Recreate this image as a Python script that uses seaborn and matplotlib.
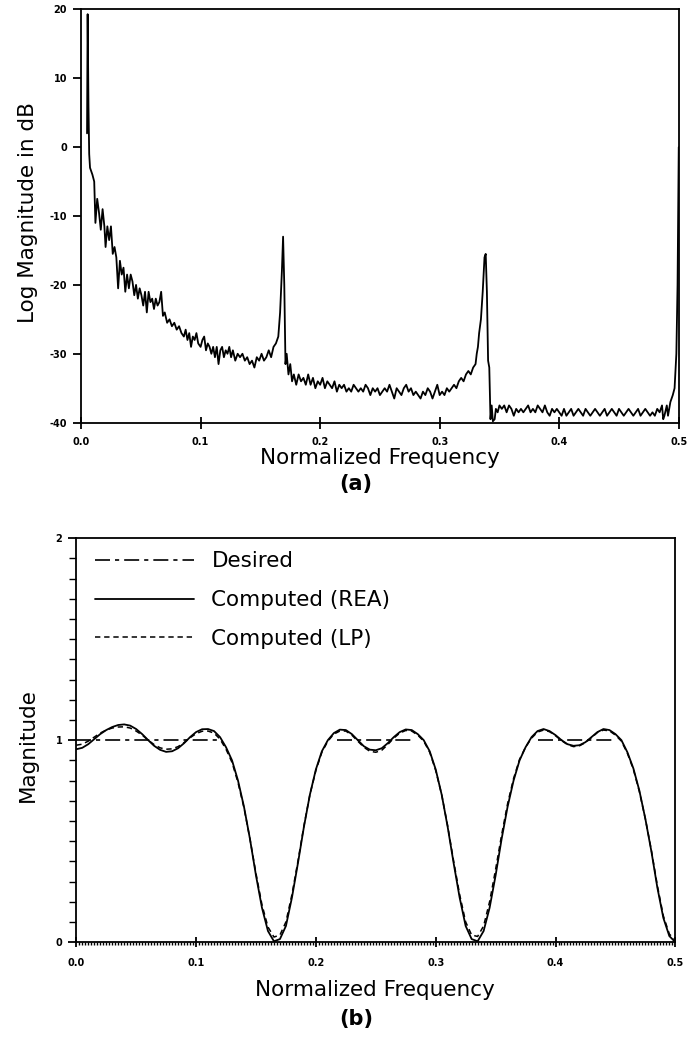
import numpy as np
import pandas as pd
import matplotlib
matplotlib.use('Agg')
import matplotlib.pyplot as plt
import seaborn as sns
from matplotlib.ticker import MultipleLocator

# ---- data ----

# (a) log magnitude spectrum
spec_freq = [
    0.0050, 0.0055, 0.0062, 0.0068, 0.0075, 0.0095, 0.0110, 0.0120, 0.0135, 0.0150,
    0.0165, 0.0180, 0.0195, 0.0205, 0.0220, 0.0235, 0.0250, 0.0265, 0.0280, 0.0295,
    0.0310, 0.0325, 0.0340, 0.0355, 0.0370, 0.0385, 0.0400, 0.0415, 0.0430, 0.0445,
    0.0460, 0.0475, 0.0490, 0.0505, 0.0520, 0.0535, 0.0550, 0.0565, 0.0580, 0.0595,
    0.0610, 0.0625, 0.0640, 0.0655, 0.0670, 0.0685, 0.0700, 0.0720, 0.0740, 0.0760,
    0.0780, 0.0800, 0.0820, 0.0840, 0.0860, 0.0875, 0.0890, 0.0905, 0.0920, 0.0935,
    0.0950, 0.0965, 0.0980, 0.1000, 0.1015, 0.1030, 0.1045, 0.1060, 0.1075, 0.1090,
    0.1105, 0.1120, 0.1135, 0.1150, 0.1165, 0.1180, 0.1195, 0.1210, 0.1225, 0.1240,
    0.1255, 0.1270, 0.1290, 0.1310, 0.1330, 0.1350, 0.1370, 0.1390, 0.1410, 0.1430,
    0.1450, 0.1470, 0.1490, 0.1510, 0.1530, 0.1550, 0.1570, 0.1590, 0.1610, 0.1630,
    0.1650, 0.1665, 0.1680, 0.1690, 0.1700, 0.1710, 0.1720, 0.1735, 0.1750, 0.1765,
    0.1780, 0.1800, 0.1820, 0.1840, 0.1860, 0.1880, 0.1900, 0.1920, 0.1940, 0.1960,
    0.1980, 0.2000, 0.2020, 0.2040, 0.2060, 0.2080, 0.2100, 0.2120, 0.2140, 0.2160,
    0.2180, 0.2200, 0.2220, 0.2240, 0.2260, 0.2280, 0.2300, 0.2320, 0.2340, 0.2360,
    0.2380, 0.2400, 0.2420, 0.2440, 0.2460, 0.2480, 0.2500, 0.2520, 0.2540, 0.2560,
    0.2580, 0.2600, 0.2620, 0.2640, 0.2660, 0.2680, 0.2700, 0.2720, 0.2740, 0.2760,
    0.2780, 0.2800, 0.2820, 0.2840, 0.2860, 0.2880, 0.2900, 0.2920, 0.2940, 0.2960,
    0.2980, 0.3000, 0.3020, 0.3040, 0.3060, 0.3080, 0.3100, 0.3120, 0.3140, 0.3160,
    0.3180, 0.3200, 0.3220, 0.3240, 0.3260, 0.3280, 0.3300, 0.3310, 0.3320, 0.3330,
    0.3345, 0.3360, 0.3375, 0.3385, 0.3395, 0.3405, 0.3415, 0.3425, 0.3435, 0.3445,
    0.3460, 0.3470, 0.3485, 0.3500, 0.3520, 0.3540, 0.3560, 0.3580, 0.3600, 0.3620,
    0.3640, 0.3660, 0.3680, 0.3700, 0.3720, 0.3740, 0.3760, 0.3780, 0.3800, 0.3820,
    0.3840, 0.3860, 0.3880, 0.3900, 0.3920, 0.3940, 0.3960, 0.3980, 0.4000, 0.4020,
    0.4040, 0.4060, 0.4080, 0.4100, 0.4120, 0.4140, 0.4160, 0.4180, 0.4200, 0.4220,
    0.4240, 0.4260, 0.4280, 0.4300, 0.4320, 0.4340, 0.4360, 0.4380, 0.4400, 0.4420,
    0.4440, 0.4460, 0.4480, 0.4500, 0.4520, 0.4540, 0.4560, 0.4580, 0.4600, 0.4620,
    0.4640, 0.4660, 0.4680, 0.4700, 0.4720, 0.4740, 0.4760, 0.4780, 0.4800, 0.4820,
    0.4840, 0.4860, 0.4870, 0.4880, 0.4900, 0.4910, 0.4930, 0.4950, 0.4965, 0.4980,
    0.4990, 0.5000,
]
spec_db = [
    2.0, 19.3, 6.0, -1.0, -3.0, -4.0, -5.0, -11.0, -7.5, -9.5,
    -12.0, -9.0, -11.5, -14.5, -11.5, -13.5, -11.5, -15.5, -14.5, -16.0,
    -20.5, -16.5, -18.5, -17.5, -21.0, -18.5, -20.5, -18.5, -19.5, -21.5,
    -20.0, -22.0, -20.5, -21.5, -23.0, -21.0, -24.0, -21.0, -22.5, -22.0,
    -23.5, -22.0, -23.0, -22.5, -21.0, -24.5, -24.0, -25.5, -25.0, -26.0,
    -25.5, -26.5, -26.0, -27.0, -27.5, -26.5, -28.0, -27.0, -29.0, -27.5,
    -28.0, -27.0, -28.5, -29.0, -28.0, -27.5, -29.5, -28.5, -29.0, -30.0,
    -29.0, -30.5, -29.0, -31.5, -29.5, -29.0, -30.5, -29.5, -30.0, -29.0,
    -30.5, -29.5, -31.0, -30.0, -30.5, -30.0, -31.0, -30.5, -31.5, -31.0,
    -32.0, -30.5, -31.0, -30.0, -31.0, -30.5, -29.5, -30.5, -29.0, -28.5,
    -27.5, -24.0, -18.0, -13.0, -20.0, -31.5, -30.0, -33.0, -31.5, -34.0,
    -33.0, -34.5, -33.0, -34.0, -33.5, -34.5, -33.0, -34.5, -33.5, -35.0,
    -34.0, -34.5, -33.5, -35.0, -34.0, -34.5, -35.0, -34.0, -35.5, -34.5,
    -35.0, -34.5, -35.5, -35.0, -35.5, -34.5, -35.0, -35.5, -35.0, -35.5,
    -34.5, -35.0, -36.0, -35.0, -35.5, -35.0, -36.0, -35.5, -35.0, -35.5,
    -34.5, -35.5, -36.5, -35.0, -35.5, -36.0, -35.0, -34.5, -35.5, -35.0,
    -36.0, -35.5, -36.0, -36.5, -35.5, -36.0, -35.0, -35.5, -36.5, -35.5,
    -34.5, -36.0, -35.5, -36.0, -35.0, -35.5, -35.0, -34.5, -35.0, -34.0,
    -33.5, -34.0, -33.0, -32.5, -33.0, -32.0, -31.5, -30.0, -29.0, -27.0,
    -25.0, -21.0, -16.0, -15.5, -21.0, -31.0, -32.0, -39.5, -37.5, -39.8,
    -39.5, -38.0, -38.5, -37.5, -38.0, -37.5, -38.5, -37.5, -38.0, -39.0,
    -38.0, -38.5, -38.0, -38.5, -38.0, -37.5, -38.5, -38.0, -38.5, -37.5,
    -38.0, -38.5, -37.5, -38.5, -39.0, -38.0, -38.5, -38.0, -38.5, -39.0,
    -38.0, -39.0, -38.5, -38.0, -39.0, -38.5, -38.0, -38.5, -39.0, -38.0,
    -38.5, -39.0, -38.5, -38.0, -38.5, -39.0, -38.5, -38.0, -39.0, -38.5,
    -38.0, -38.5, -39.0, -38.0, -38.5, -39.0, -38.5, -38.0, -38.5, -39.0,
    -38.5, -38.0, -39.0, -38.5, -38.0, -38.5, -39.0, -38.5, -39.0, -38.0,
    -38.5, -37.5, -39.5, -39.0, -37.5, -39.0, -37.0, -36.0, -35.0, -30.0,
    -20.0, 0.0,
]

# (b) magnitude responses, sampled every 0.005
resp_freq = [round(0.005 * k, 3) for k in range(101)]
rea_mag = [
    0.955, 0.962, 0.980, 1.005, 1.030, 1.050, 1.065, 1.075, 1.078, 1.072,
    1.055, 1.030, 1.000, 0.972, 0.952, 0.942, 0.945, 0.960, 0.985, 1.015,
    1.040, 1.054, 1.055, 1.045, 1.015, 0.965, 0.900, 0.800, 0.670, 0.510,
    0.330, 0.170, 0.055, 0.004, 0.015, 0.080, 0.220, 0.390, 0.570, 0.730,
    0.855, 0.945, 1.000, 1.035, 1.052, 1.050, 1.030, 1.000, 0.970, 0.953,
    0.950, 0.960, 0.985, 1.015, 1.040, 1.053, 1.050, 1.030, 1.000, 0.945,
    0.855, 0.730, 0.570, 0.390, 0.220, 0.080, 0.015, 0.004, 0.055, 0.170,
    0.330, 0.510, 0.670, 0.800, 0.900, 0.965, 1.015, 1.045, 1.055, 1.045,
    1.025, 1.000, 0.980, 0.972, 0.975, 0.990, 1.015, 1.040, 1.055, 1.050,
    1.030, 1.000, 0.940, 0.860, 0.750, 0.610, 0.450, 0.270, 0.120, 0.030,
    0.000,
]
lp_mag = [
    0.975, 0.980, 0.995, 1.015, 1.035, 1.050, 1.060, 1.065, 1.066, 1.060,
    1.045, 1.025, 1.000, 0.978, 0.962, 0.955, 0.957, 0.968, 0.988, 1.012,
    1.032, 1.044, 1.045, 1.035, 1.005, 0.955, 0.890, 0.790, 0.665, 0.510,
    0.340, 0.185, 0.075, 0.025, 0.035, 0.100, 0.235, 0.400, 0.575, 0.730,
    0.850, 0.940, 0.995, 1.030, 1.045, 1.045, 1.025, 0.995, 0.965, 0.945,
    0.940, 0.950, 0.978, 1.010, 1.035, 1.048, 1.045, 1.025, 0.995, 0.940,
    0.850, 0.730, 0.575, 0.400, 0.235, 0.100, 0.035, 0.028, 0.080, 0.200,
    0.360, 0.530, 0.685, 0.810, 0.905, 0.965, 1.010, 1.040, 1.050, 1.042,
    1.022, 0.998, 0.978, 0.968, 0.972, 0.988, 1.012, 1.038, 1.050, 1.046,
    1.025, 0.995, 0.935, 0.855, 0.745, 0.610, 0.455, 0.280, 0.130, 0.040,
    0.010,
]

# desired response: unit gain on the pass bands
band_lo = [0.0, 0.218, 0.385]
band_hi = [0.118, 0.282, 0.448]
band_gain = [1.0, 1.0, 1.0]

spec_yticks = [-40, -30, -20, -10, 0, 10, 20]
spec_ylabels = ['-40', '-30', '-20', '-10', '0', '10', '20']
freq_ticks = [0.0, 0.1, 0.2, 0.3, 0.4, 0.5]
freq_labels = ['0.0', '0.1', '0.2', '0.3', '0.4', '0.5']
mag_ticks = [0, 1, 2]
mag_labels = ['0', '1', '2']

# ---- plotting ----
sns.set_style('ticks')
plt.rcParams['font.family'] = ['DejaVu Sans']
plt.rcParams['text.color'] = 'black'
plt.rcParams['xtick.color'] = 'black'
plt.rcParams['ytick.color'] = 'black'
plt.rcParams['axes.linewidth'] = 1.3
plt.rcParams['xtick.major.width'] = 1.3
plt.rcParams['ytick.major.width'] = 1.3
plt.rcParams['xtick.minor.width'] = 1.0
plt.rcParams['ytick.minor.width'] = 1.0

fig = plt.figure(figsize=(6.87, 10.41), dpi=100)
ax1 = fig.add_axes([0.118, 0.594, 0.870, 0.397])
ax2 = fig.add_axes([0.111, 0.095, 0.872, 0.388])

tick_font = dict(fontsize=7, fontweight='bold')

# panel (a)
spec_df = pd.DataFrame({'f': spec_freq, 'db': spec_db})
sns.lineplot(data=spec_df, x='f', y='db', color='black', linewidth=1.3,
             sort=False, estimator=None, ax=ax1)
ax1.set_xlim(0, 0.5)
ax1.set_ylim(-40, 20)
ax1.set_xticks(freq_ticks)
ax1.set_xticklabels(freq_labels, **tick_font)
ax1.set_yticks(spec_yticks)
ax1.set_yticklabels(spec_ylabels, **tick_font)
ax1.tick_params(axis='x', direction='inout', length=8, pad=6)
ax1.tick_params(axis='y', direction='out', length=6, pad=4)
ax1.set_xlabel('')
ax1.set_ylabel('')
for s in ax1.spines.values():
    s.set_visible(True)
    s.set_color('black')

# panel (b)
des_rows = []
for i in range(len(band_lo)):
    des_rows.append({'band': i, 'f': band_lo[i], 'mag': band_gain[i]})
    des_rows.append({'band': i, 'f': band_hi[i], 'mag': band_gain[i]})
des_df = pd.DataFrame(des_rows)
resp_df = pd.DataFrame({'f': resp_freq, 'rea': rea_mag, 'lp': lp_mag})

sns.lineplot(data=des_df, x='f', y='mag', units='band', estimator=None,
             color='black', linewidth=1.2, linestyle=(0, (9, 3, 2.5, 3)),
             label='Desired', ax=ax2)
sns.lineplot(data=resp_df, x='f', y='rea', color='black', linewidth=1.3,
             label='Computed (REA)', ax=ax2)
sns.lineplot(data=resp_df, x='f', y='lp', color='black', linewidth=1.1,
             linestyle=(0, (3.5, 2.5)), label='Computed (LP)', ax=ax2)

ax2.set_xlim(0, 0.5)
ax2.set_ylim(0, 2)
ax2.set_xticks(freq_ticks)
ax2.set_xticklabels(freq_labels, **tick_font)
ax2.set_yticks(mag_ticks)
ax2.set_yticklabels(mag_labels, **tick_font)
ax2.xaxis.set_minor_locator(MultipleLocator(0.0025))
ax2.yaxis.set_minor_locator(MultipleLocator(0.1))
ax2.tick_params(axis='x', which='major', direction='inout', length=7, pad=8)
ax2.tick_params(axis='x', which='minor', direction='out', length=2.5)
ax2.tick_params(axis='y', which='major', direction='out', length=6, pad=4)
ax2.tick_params(axis='y', which='minor', direction='out', length=5)
ax2.set_xlabel('')
ax2.set_ylabel('')
for s in ax2.spines.values():
    s.set_visible(True)
    s.set_color('black')

# one legend entry per label (the desired bands share one)
handles, labels = ax2.get_legend_handles_labels()
seen = {}
for h, l in zip(handles, labels):
    if l not in seen:
        seen[l] = h
ax2.legend(list(seen.values()), list(seen.keys()), loc='upper left',
           frameon=False, fontsize=15.5, handlelength=4.6, handletextpad=0.8,
           labelspacing=0.88, borderaxespad=0.2, bbox_to_anchor=(0.01, 1.0),
           labelcolor='black')

# labels
lab = dict(fontsize=15.5, color='black')
fig.text(0.553, 1 - 458 / 1041, 'Normalized Frequency', ha='center', va='center', **lab)
fig.text(0.518, 1 - 484 / 1041, '(a)', ha='center', va='center', fontsize=15,
         fontweight='bold')
fig.text(0.041, 1 - 213 / 1041, 'Log Magnitude in dB', rotation=90,
         ha='center', va='center', **lab)
fig.text(0.545, 1 - 990 / 1041, 'Normalized Frequency', ha='center', va='center', **lab)
fig.text(0.518, 1 - 1019 / 1041, '(b)', ha='center', va='center', fontsize=15,
         fontweight='bold')
fig.text(0.041, 1 - 745 / 1041, 'Magnitude', rotation=90,
         ha='center', va='center', **lab)

fig.savefig('out.png', dpi=100)
